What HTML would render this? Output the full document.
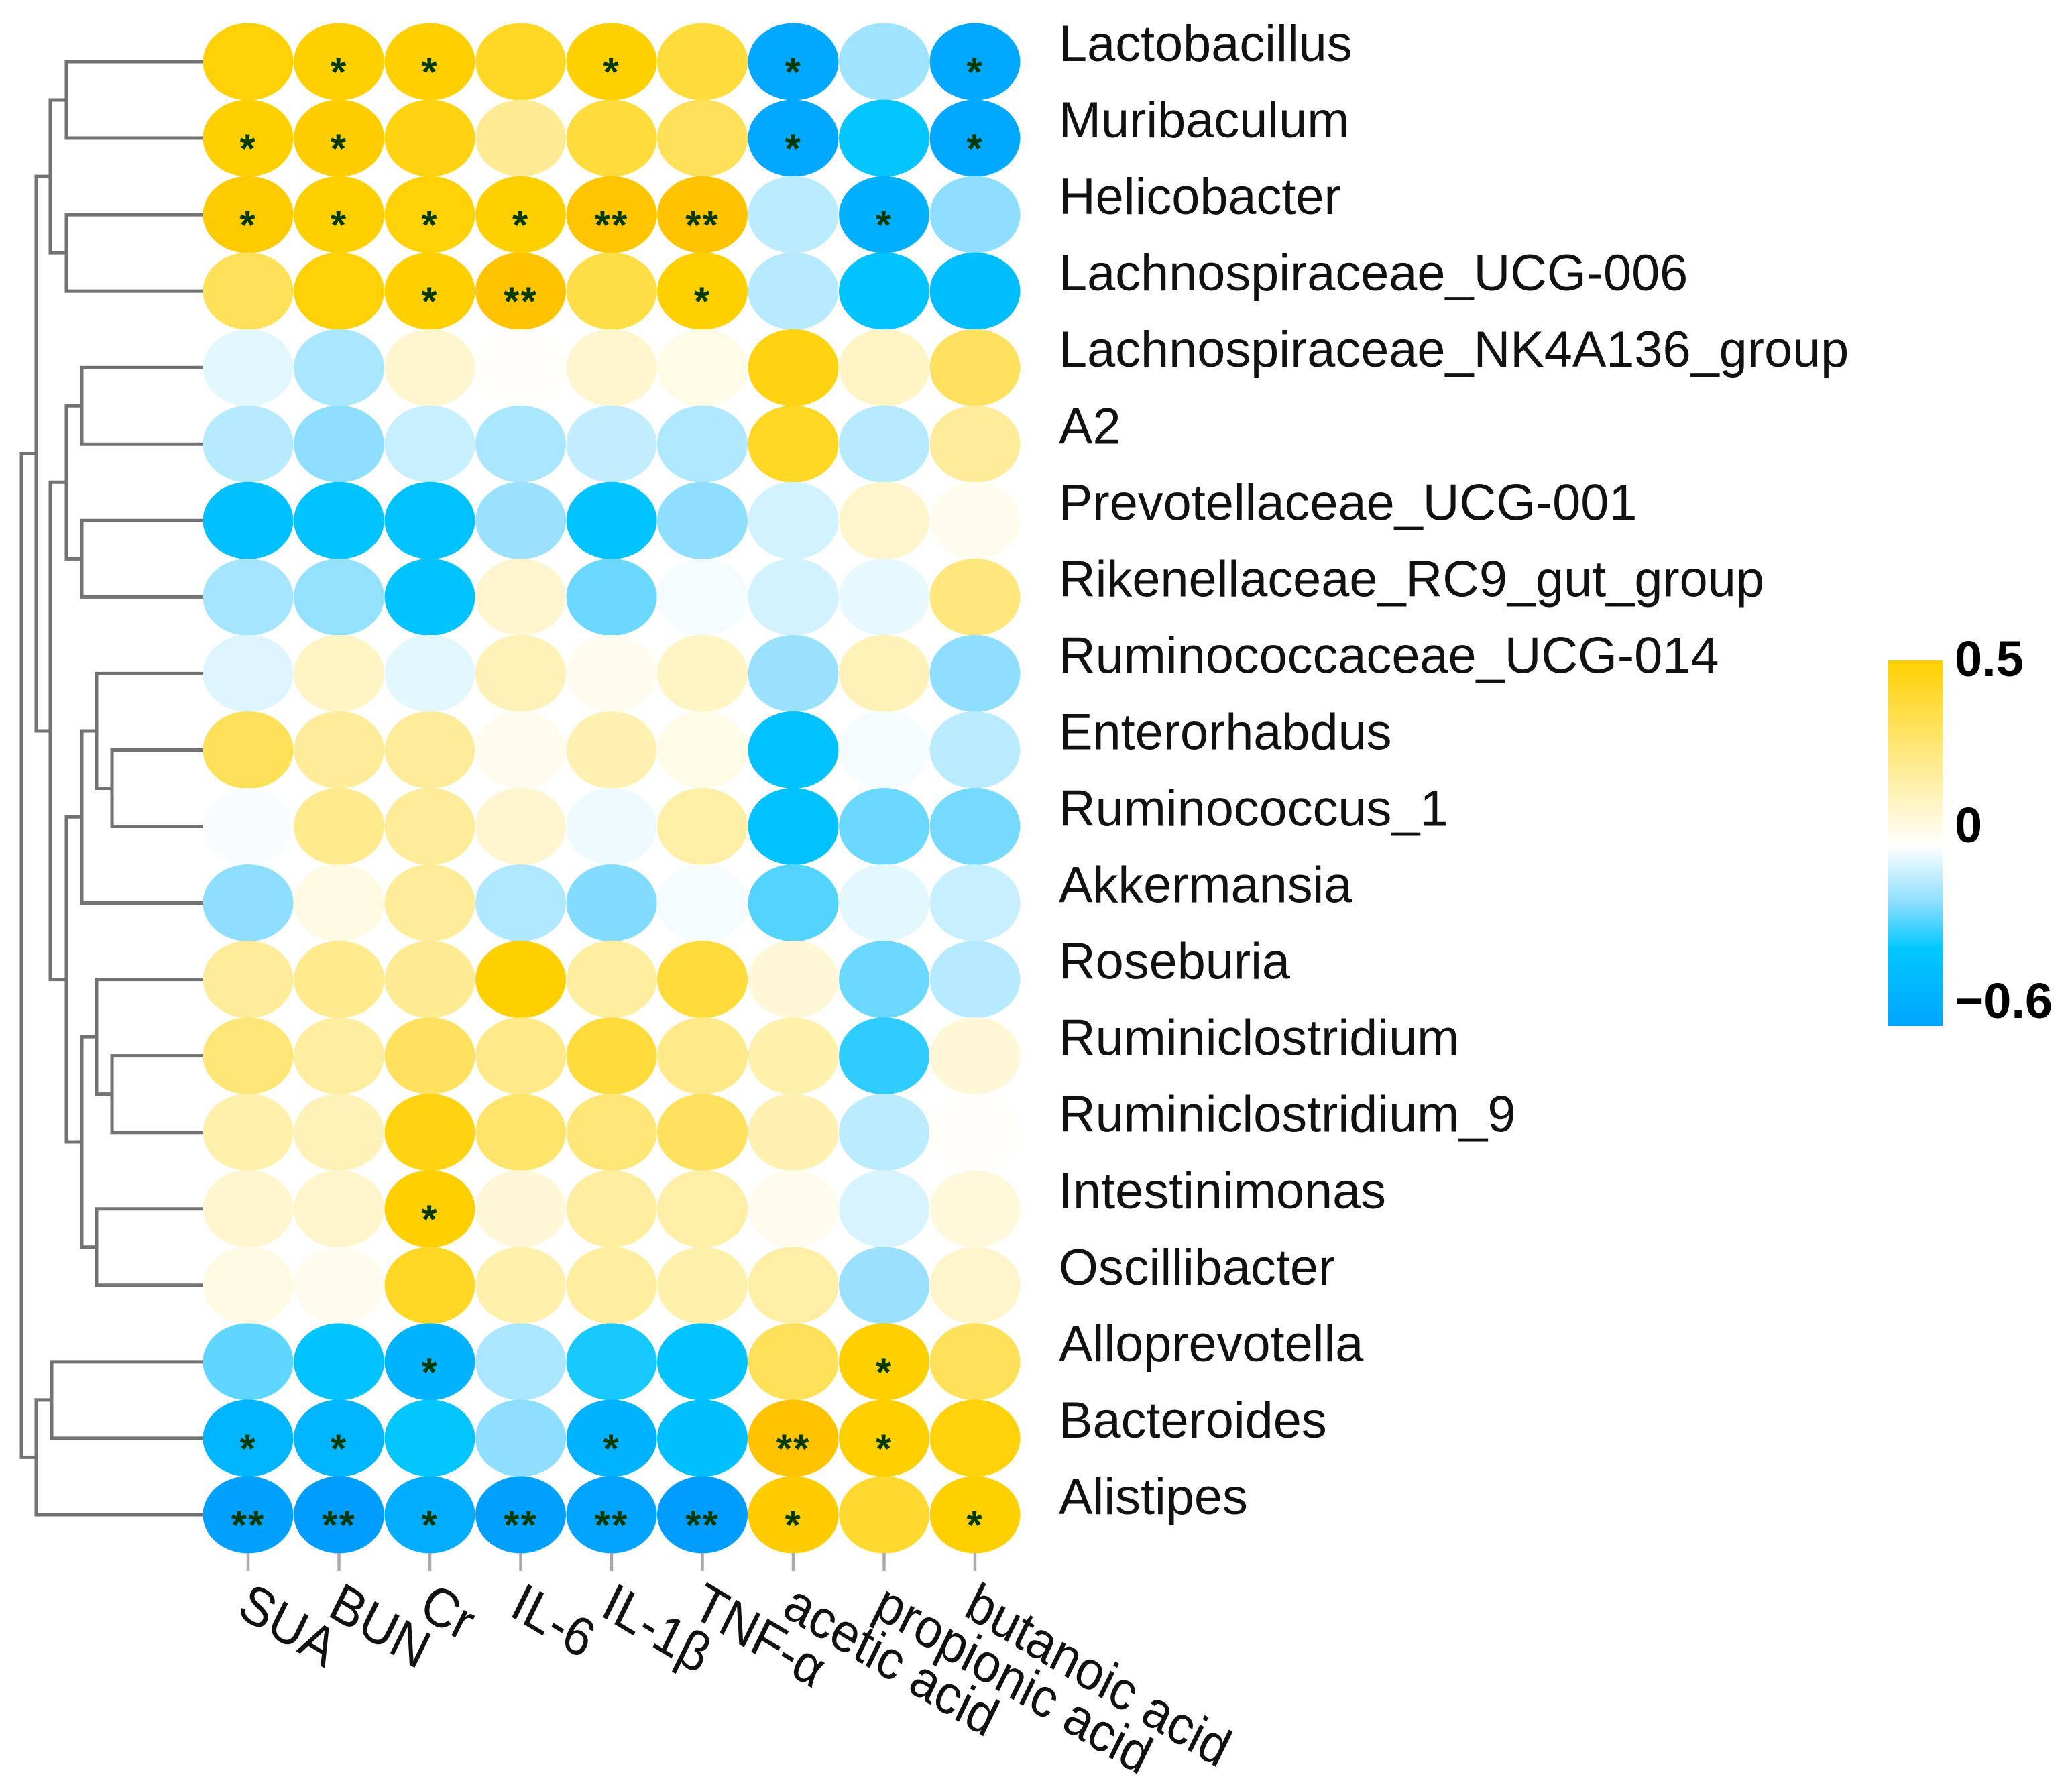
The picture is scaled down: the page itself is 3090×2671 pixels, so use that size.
<!DOCTYPE html>
<html lang="en">
<head>
<meta charset="utf-8">
<title>Genus and metabolite correlation heatmap</title>
<style>
html,body{margin:0;padding:0;background:#fff;width:3090px;height:2671px;overflow:hidden}
svg{display:block}
text{font-family:"Liberation Sans",Arial,sans-serif}
</style>
</head>
<body>
<svg id="chart" xmlns="http://www.w3.org/2000/svg" width="3090" height="2671" viewBox="0 0 3090 2671">
  <defs>
    <linearGradient id="colorbar-gradient" x1="0" y1="0" x2="0" y2="1">
      <stop offset="0" stop-color="#FFD000"/>
      <stop offset="0.508" stop-color="#FFFFFF"/>
      <stop offset="0.66" stop-color="#8EDEFF"/>
      <stop offset="0.79" stop-color="#00C8FF"/>
      <stop offset="1" stop-color="#00A5FF"/>
    </linearGradient>
  </defs>
  <rect width="3090" height="2671" fill="#fff"/>
  <g id="dendrogram" fill="none" stroke="#727272" stroke-width="5" stroke-linecap="square"></g>
  <g id="cells"></g>
  <g id="stars"></g>
  <g id="rowLabels"></g>
  <g id="colTicks"></g>
  <g id="colLabels"></g>
  <g>
    <rect x="2816" y="985" width="81" height="545" fill="url(#colorbar-gradient)"/>
    <text x="2915" y="1008" font-size="74" font-weight="bold" fill="#000">0.5</text>
    <text x="2915" y="1256" font-size="74" font-weight="bold" fill="#000">0</text>
    <text x="2915" y="1518" font-size="74" font-weight="bold" fill="#000">−0.6</text>
  </g>
</svg>
<script>
const rowNames = ["Lactobacillus","Muribaculum","Helicobacter","Lachnospiraceae_UCG-006","Lachnospiraceae_NK4A136_group","A2","Prevotellaceae_UCG-001","Rikenellaceae_RC9_gut_group","Ruminococcaceae_UCG-014","Enterorhabdus","Ruminococcus_1","Akkermansia","Roseburia","Ruminiclostridium","Ruminiclostridium_9","Intestinimonas","Oscillibacter","Alloprevotella","Bacteroides","Alistipes"];
const colNames = ["SUA","BUN","Cr","IL-6","IL-1β","TNF-α","acetic acid","propionic acid","butanoic acid"];
const correlations = [
[.42,.43,.44,.37,.43,.33,-.50,-.17,-.50],
[.43,.45,.40,.18,.33,.28,-.50,-.32,-.50],
[.47,.43,.42,.43,.50,.52,-.12,-.45,-.20],
[.28,.42,.44,.52,.31,.43,-.13,-.33,-.37],
[-.05,-.15,.08,.01,.08,.04,.40,.10,.27],
[-.13,-.20,-.10,-.15,-.11,-.14,.37,-.13,.17],
[-.35,-.33,-.34,-.18,-.33,-.20,-.08,.09,.03],
[-.16,-.19,-.33,.08,-.23,-.02,-.08,-.04,.22],
[-.06,.10,-.05,.12,.03,.10,-.18,.12,-.20],
[.28,.17,.17,.03,.13,.04,-.34,-.02,-.12],
[-.01,.19,.17,.08,-.03,.15,-.34,-.23,-.22],
[-.20,.05,.17,-.14,-.21,-.02,-.25,-.05,-.10],
[.17,.19,.18,.43,.16,.33,.07,-.23,-.13],
[.23,.16,.27,.20,.33,.20,.14,-.28,.07],
[.14,.12,.40,.25,.23,.27,.13,-.12,.01],
[.08,.09,.44,.07,.16,.15,.03,-.07,.06],
[.05,.03,.37,.14,.16,.14,.15,-.18,.09],
[-.24,-.33,-.44,-.15,-.30,-.33,.28,.44,.28],
[-.42,-.42,-.32,-.20,-.44,-.36,.52,.44,.41],
[-.55,-.57,-.47,-.55,-.53,-.57,.46,.35,.43]
];
const significance = [
["","*","*","","*","","*","","*"],
["*","*","","","","","*","","*"],
["*","*","*","*","**","**","","*",""],
["","","*","**","","*","","",""],
["","","","","","","","",""],
["","","","","","","","",""],
["","","","","","","","",""],
["","","","","","","","",""],
["","","","","","","","",""],
["","","","","","","","",""],
["","","","","","","","",""],
["","","","","","","","",""],
["","","","","","","","",""],
["","","","","","","","",""],
["","","","","","","","",""],
["","","*","","","","","",""],
["","","","","","","","",""],
["","","*","","","","","*",""],
["*","*","","","*","","**","*",""],
["**","**","*","**","**","**","*","","*"]
];
// Dendrogram merges: [merge distance, left child, right child]; a number child is a row index.
const dendrogramTree = [2.71,
  [2.49,
    [2.28, [2.04,0,1], [2.04,2,3]],
    [2.28,
      [2.04, [1.81,4,5], [1.81,6,7]],
      [2.04,
        [1.81, [1.59,8,[1.36,9,10]], 11],
        [1.81, [1.59,12,[1.36,13,14]], [1.59,15,16]]
      ]
    ]
  ],
  [2.49, [2.26,17,18], 19]
];
const colorDomain = [-0.6,-0.32,-0.2,0,0.43,0.55];
const colorRange = [[0,152,255],[0,197,255],[142,222,255],[255,255,255],[255,208,0],[255,190,0]];

const NS = "http://www.w3.org/2000/svg";
const xOf = c => 370 + c * 135.5;
const yOf = r => 92 + r * 114.05;
const distX = d => 303 - d * 100;
function colorOf(v) {
  let i = 0;
  while (i < colorDomain.length - 2 && v > colorDomain[i + 1]) i++;
  const t = Math.max(0, Math.min(1, (v - colorDomain[i]) / (colorDomain[i + 1] - colorDomain[i])));
  const a = colorRange[i], b = colorRange[i + 1];
  return "rgb(" + a.map((q, k) => Math.round(q + (b[k] - q) * t)).join(",") + ")";
}
function make(tag, attrs, parent) {
  const el = document.createElementNS(NS, tag);
  for (const k in attrs) el.setAttribute(k, attrs[k]);
  parent.appendChild(el);
  return el;
}
const dendroG = document.getElementById("dendrogram");
function drawNode(node) {
  if (typeof node === "number") return { x: distX(0), y: yOf(node) };
  const a = drawNode(node[1]);
  const b = drawNode(node[2]);
  const x = distX(node[0]);
  const p = make("path", { d: "M" + a.x + " " + a.y + "H" + x + "V" + b.y + "H" + b.x }, dendroG);
  
  
  return { x: x, y: (a.y + b.y) / 2 };
}
drawNode(dendrogramTree);

const cellsG = document.getElementById("cells");
const starsG = document.getElementById("stars");
correlations.forEach((row, r) => {
  row.forEach((v, c) => {
    const e = make("ellipse", { cx: xOf(c), cy: yOf(r), rx: 67.5, ry: 57.5, fill: colorOf(v) }, cellsG);
    
    
    const s = significance[r][c];
    if (s) {
      const t = make("text", { x: xOf(c), y: yOf(r) + 36, "font-size": 60, "letter-spacing": 2, "font-weight": "bold", "text-anchor": "middle", fill: "#003a00" }, starsG);
      t.textContent = s;
      
      
    }
  });
});
const rowG = document.getElementById("rowLabels");
rowNames.forEach((n, r) => {
  const t = make("text", { x: 1579, y: yOf(r) - 1, "font-size": 75.7, fill: "#111" }, rowG);
  t.textContent = n;
  
  
});
const tickG = document.getElementById("colTicks");
const colG = document.getElementById("colLabels");
colNames.forEach((n, c) => {
  const l = make("line", { x1: xOf(c), x2: xOf(c), y1: 2316, y2: 2343, stroke: "#aaa", "stroke-width": 4.5 }, tickG);
  
  
  const X = xOf(c) - 19, Y = 2408;
  const t = make("text", { transform: "translate(" + X + " " + Y + ") scale(0.95 1.05) rotate(28.5)", "font-size": 77.7, fill: "#111" }, colG);
  t.textContent = n;
  
  
});
</script>
</body>
</html>
